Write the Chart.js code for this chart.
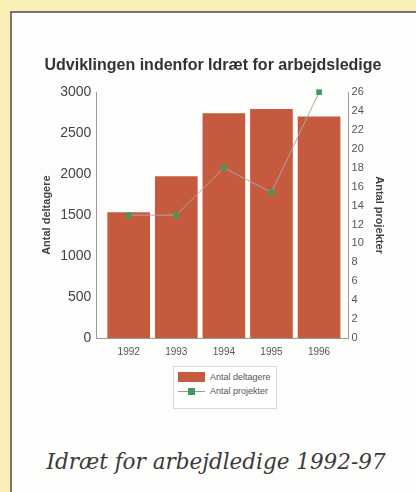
<!DOCTYPE html>
<html>
<head>
<meta charset="utf-8">
<script src="https://cdn.jsdelivr.net/npm/chart.js@4"></script>
<style>
  html, body { margin: 0; padding: 0; }
  body {
    width: 416px; height: 492px; overflow: hidden; position: relative;
    background: #f7efb6;
    font-family: "Liberation Sans", Arial, sans-serif;
  }
  #panel {
    position: absolute; left: 10px; top: 11px; width: 420px; height: 500px;
    background: #fdfdfb;
    border-top: 2px solid #7a766c;
    border-left: 2px solid #7a766c;
  }
  #wrap { position: absolute; left: 0; top: 40px; width: 416px; height: 329px; }
  #legend {
    position: absolute; left: 173px; top: 366px; width: 102px; height: 41px;
    border: 1px solid #d8d8d4; background: #fff;
    font-size: 9px; color: #555;
  }
  .row { position: absolute; left: 4px; height: 12px; line-height: 12px; }
  .row span { position: absolute; left: 32px; top: 0; white-space: nowrap; }
  .swatch { position: absolute; left: 0; top: 1px; width: 27px; height: 10px; }
  #caption {
    position: absolute; left: 0; width: 432px; top: 449px; text-align: center;
    font-family: "DejaVu Serif", serif; font-style: italic; font-size: 21.5px; color: #3a3a3a;
  }
</style>
</head>
<body>
<div id="panel"></div>
<div id="wrap"><canvas id="chart"></canvas></div>
<div id="legend"></div>
<div id="caption">Idræt for arbejdledige 1992-97</div>
<script>
// data
const years = [1992, 1993, 1994, 1995, 1996];
const deltagere = [1530, 1970, 2740, 2790, 2700];
const projekter = [13, 13, 18, 15.4, 26];
const seriesNames = ["Antal deltagere", "Antal projekter"];

const barColor = "#c65a3e";
const pointColor = "#3f9a60";

// legend as html, two rows like the print
function buildLegend() {
  const box = document.getElementById("legend");
  seriesNames.forEach((name, i) => {
    const row = document.createElement("div");
    row.className = "row";
    row.style.top = (i === 0 ? 4 : 18) + "px";
    const sw = document.createElement("canvas");
    sw.className = "swatch";
    sw.width = 27; sw.height = 10;
    const g = sw.getContext("2d");
    if (i === 0) {
      g.fillStyle = barColor;
      g.fillRect(0, 0, 27, 10);
    } else {
      g.strokeStyle = "#999";
      g.beginPath(); g.moveTo(0, 5.5); g.lineTo(27, 5.5); g.stroke();
      g.fillStyle = pointColor;
      g.fillRect(10, 2, 7, 7);
    }
    const txt = document.createElement("span");
    txt.textContent = name;
    row.appendChild(sw);
    row.appendChild(txt);
    box.appendChild(row);
  });
}
buildLegend();

const ctx = document.getElementById("chart").getContext("2d");

new Chart(ctx, {
  type: "bar",
  data: {
    datasets: [
      {
        type: "bar",
        label: seriesNames[0],
        data: years.map((yr, i) => ({ x: yr, y: deltagere[i] })),
        backgroundColor: barColor,
        yAxisID: "y",
        order: 2,
        barThickness: 42
      },
      {
        type: "line",
        label: seriesNames[1],
        data: years.map((yr, i) => ({ x: yr, y: projekter[i] })),
        yAxisID: "y1",
        order: 1,
        clip: false,
        borderColor: "#a9a9a6",
        borderWidth: 1,
        pointStyle: "rect",
        pointRadius: 4,
        pointBackgroundColor: pointColor,
        pointBorderWidth: 0,
        tension: 0
      }
    ]
  },
  options: {
    responsive: true,
    maintainAspectRatio: false,
    animation: false,
    layout: { padding: { left: 40, right: 30, top: 16, bottom: 3 } },
    plugins: {
      tooltip: { enabled: false },
      legend: { display: false },
      title: {
        display: true,
        text: "Udviklingen indenfor Idræt for arbejdsledige",
        color: "#333",
        font: { family: "Liberation Sans", size: 16, weight: "bold" },
        padding: { top: 0, bottom: 17 }
      }
    },
    scales: {
      x: {
        type: "linear",
        offset: false,
        min: 1991.32,
        max: 1996.62,
        grid: { display: false, drawTicks: false },
        border: { display: true, color: "#9a9a9a" },
        afterBuildTicks: axis => {
          axis.ticks = years.map(v => ({ value: v }));
        },
        ticks: {
          color: "#555", padding: 8,
          font: { family: "Liberation Sans", size: 10 },
          callback: v => String(v)
        }
      },
      y: {
        position: "left",
        min: 0,
        max: 3000,
        grid: { display: false, drawTicks: false },
        border: { display: true, color: "#9a9a9a" },
        ticks: {
          stepSize: 500, color: "#444", padding: 5,
          font: { family: "Liberation Sans", size: 14 },
          callback: v => String(v)
        },
        title: {
          display: true,
          text: "Antal deltagere",
          color: "#444",
          font: { family: "Liberation Sans", size: 11, weight: "bold" },
          padding: { top: 0, bottom: 2 }
        }
      },
      y1: {
        position: "right",
        min: 0,
        max: 26,
        grid: { display: false, drawTicks: false },
        border: { display: true, color: "#9a9a9a" },
        ticks: {
          stepSize: 2, color: "#555", padding: 3,
          font: { family: "Liberation Sans", size: 11 }
        },
        title: {
          display: true,
          text: "Antal projekter",
          color: "#444",
          font: { family: "Liberation Sans", size: 11, weight: "bold" },
          padding: { top: 0, bottom: 6 }
        }
      }
    }
  }
});
</script>
</body>
</html>
